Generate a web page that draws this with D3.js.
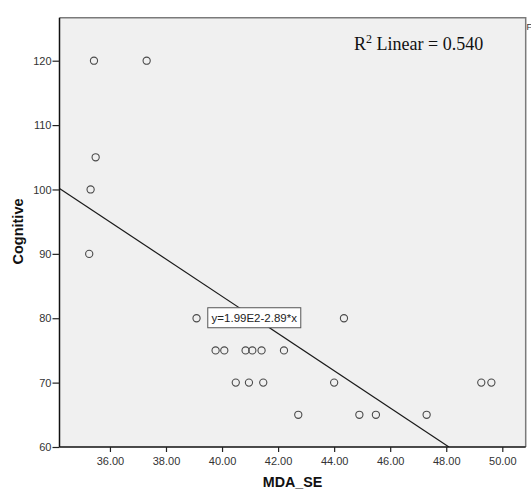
<!DOCTYPE html>
<html>
<head>
<meta charset="utf-8">
<script src="https://cdn.jsdelivr.net/npm/d3@7"></script>
<style>
  html, body { margin: 0; padding: 0; background: #ffffff; }
  svg { display: block; }
</style>
</head>
<body>
<svg id="chart" width="531" height="491"></svg>
<script>
// MDA_SE vs Cognitive observations
const mdaSE = [35.43, 37.31, 35.49, 35.31, 35.26, 39.09, 44.35,
               39.77, 40.08, 40.84, 41.08, 41.41, 42.21,
               40.49, 40.96, 41.47, 44.00, 49.25, 49.61,
               42.72, 44.90, 45.49, 47.30];
const cognitive = [120, 120, 105, 100, 90, 80, 80,
                   75, 75, 75, 75, 75, 75,
                   70, 70, 70, 70, 70, 70,
                   65, 65, 65, 65];

// Linear fit: Cognitive = 199 - 2.89 * MDA_SE
const fitIntercept = 199;
const fitSlope = -2.89;
const fitLabel = "y=1.99E2-2.89*x";
const rSquared = "0.540";

const xTicks = [36, 38, 40, 42, 44, 46, 48, 50];
const yTicks = [60, 70, 80, 90, 100, 110, 120];

const svg = d3.select("#chart");
const pLeft = 59.5, pRight = 525.7, pTop = 17.7, pBottom = 447;

const x = d3.scaleLinear().domain([34.2, 50.835]).range([pLeft, pRight]);
const y = d3.scaleLinear().domain([60, 126.68]).range([pBottom, pTop]);

// plot background
svg.append("rect")
  .attr("x", pLeft).attr("y", pTop)
  .attr("width", pRight - pLeft).attr("height", pBottom - pTop)
  .attr("fill", "#f0f0f0");

// top and right frame
svg.append("path")
  .attr("d", `M${pLeft},${pTop}H${pRight}V${pBottom}`)
  .attr("fill", "none").attr("stroke", "#7a7a7a").attr("stroke-width", 1.5);

svg.append("defs").append("clipPath").attr("id", "plotClip")
  .append("rect").attr("x", pLeft).attr("y", pTop)
  .attr("width", pRight - pLeft).attr("height", pBottom - pTop);

// fit line
const xStart = x.domain()[0];
const xEnd = (60 - fitIntercept) / fitSlope;
svg.append("line")
  .attr("clip-path", "url(#plotClip)")
  .attr("x1", x(xStart)).attr("y1", y(fitIntercept + fitSlope * xStart))
  .attr("x2", x(xEnd)).attr("y2", y(fitIntercept + fitSlope * xEnd))
  .attr("stroke", "#1a1a1a").attr("stroke-width", 1.2);

// points
svg.append("g").selectAll("circle")
  .data(mdaSE.map((v, i) => [v, cognitive[i]]))
  .join("circle")
  .attr("cx", d => x(d[0]))
  .attr("cy", d => y(d[1]))
  .attr("r", 3.6)
  .attr("fill", "none")
  .attr("stroke", "#4a4a4a")
  .attr("stroke-width", 1.1);

// equation label on the fit line
const lx = 41.15;
const lcx = x(lx), lcy = y(fitIntercept + fitSlope * lx);
const lg = svg.append("g");
lg.append("rect")
  .attr("x", lcx - 46.5).attr("y", lcy - 10)
  .attr("width", 93).attr("height", 20)
  .attr("fill", "#ffffff").attr("stroke", "#555555").attr("stroke-width", 1);
lg.append("text")
  .attr("x", lcx).attr("y", lcy + 4.5)
  .attr("text-anchor", "middle")
  .attr("font-family", "Liberation Sans, Arial, sans-serif")
  .attr("font-size", 11.5)
  .attr("fill", "#222")
  .text(fitLabel);

// R squared annotation
const rt = svg.append("text")
  .attr("x", 354).attr("y", 50)
  .attr("font-family", "Liberation Serif, Times New Roman, serif")
  .attr("font-size", 18)
  .attr("fill", "#111");
rt.append("tspan").text("R");
rt.append("tspan").attr("font-size", 12).attr("dy", -7).text("2");
rt.append("tspan").attr("dy", 7).text(" Linear = " + rSquared);

// clipped glyph at the right border
svg.append("text")
  .attr("x", 526.5).attr("y", 30)
  .attr("font-family", "Liberation Sans, Arial, sans-serif")
  .attr("font-size", 9)
  .attr("fill", "#333")
  .text("F");

// axes
const yAxis = svg.append("g")
  .attr("transform", `translate(${pLeft},0)`)
  .call(d3.axisLeft(y).tickValues(yTicks).tickSize(7).tickPadding(1).tickFormat(d3.format("d")));
const xAxis = svg.append("g")
  .attr("transform", `translate(0,${pBottom})`)
  .call(d3.axisBottom(x).tickValues(xTicks).tickSize(5).tickPadding(5).tickFormat(d3.format(".2f")));

[xAxis, yAxis].forEach(g => {
  g.select(".domain").attr("stroke", "#111").attr("stroke-width", 1.5);
  g.selectAll(".tick line").attr("stroke", "#222").attr("stroke-width", 1.2);
  g.selectAll(".tick text")
    .attr("font-family", "Liberation Sans, Arial, sans-serif")
    .attr("font-size", 11)
    .attr("fill", "#333");
});
xAxis.select(".domain").attr("d", `M${pLeft},0H${pRight}`);
yAxis.select(".domain").attr("d", `M0,${pTop}V${pBottom}`);

// axis titles
svg.append("text")
  .attr("x", (pLeft + pRight) / 2).attr("y", 487)
  .attr("text-anchor", "middle")
  .attr("font-family", "Liberation Sans, Arial, sans-serif")
  .attr("font-weight", "bold").attr("font-size", 14.3)
  .attr("fill", "#111")
  .text("MDA_SE");

svg.append("text")
  .attr("transform", `translate(22.5,231.5) rotate(-90)`)
  .attr("text-anchor", "middle")
  .attr("font-family", "Liberation Sans, Arial, sans-serif")
  .attr("font-weight", "bold").attr("font-size", 14.5)
  .attr("fill", "#111")
  .text("Cognitive");
</script>
</body>
</html>
